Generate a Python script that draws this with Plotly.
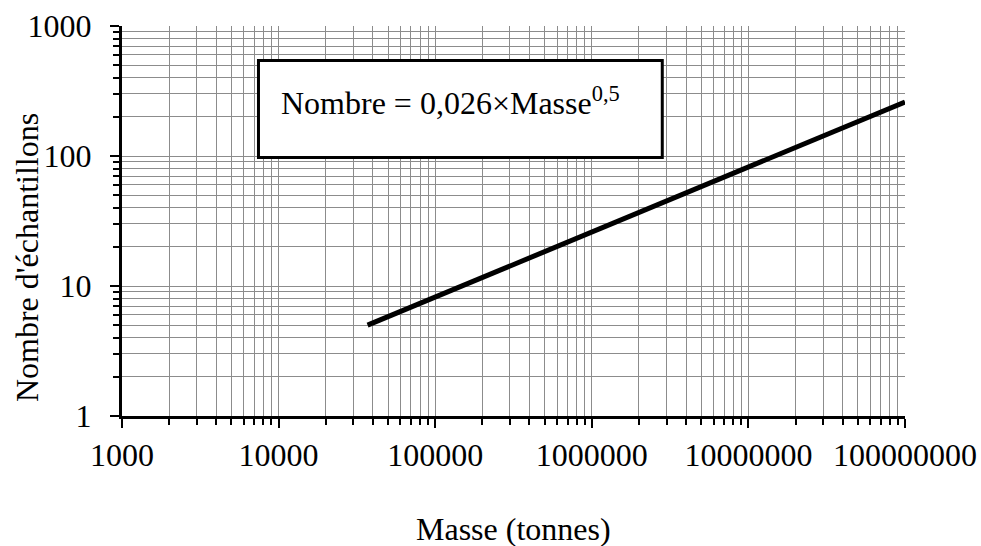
import plotly.graph_objects as go

# Read values (Masse en tonnes, Nombre d'échantillons)
masse = [37000, 100000, 1000000, 10000000, 100000000]
nombre = [5.0, 8.2, 26, 82, 260]

x_title = "Masse (tonnes)"
y_title = "Nombre d'échantillons"
equation = "Nombre = 0,026×Masse<sup>0,5</sup>"

FONT = "Liberation Serif, Times New Roman, serif"
FS = 32

fig = go.Figure()
fig.add_trace(go.Scatter(x=masse, y=nombre, mode="lines",
                         line=dict(color="black", width=5), showlegend=False))

axis_common = dict(
    type="log", dtick=1, tickformat="d", automargin=False,
    showgrid=True, gridcolor="#8c8c8c", gridwidth=1,
    showline=True, linecolor="black", linewidth=3,
    ticks="outside", ticklen=9, tickwidth=2, tickcolor="black",
    tickfont=dict(family=FONT, size=FS, color="black"),
    minor=dict(ticks="outside", ticklen=6, tickwidth=2, tickcolor="black",
               showgrid=True, gridcolor="#8c8c8c", gridwidth=1),
    zeroline=False, mirror=False,
)

fig.update_xaxes(range=[3, 8], **axis_common)
fig.update_yaxes(range=[0, 3], ticklabelstandoff=12, **axis_common)

# Equation box
fig.add_shape(type="rect", xref="paper", yref="paper",
              x0=0.1743, x1=0.690, y0=0.6628, y1=0.9115,
              line=dict(color="black", width=3), fillcolor="white", layer="above")
fig.add_annotation(xref="paper", yref="paper", x=0.2005, y=0.808,
                   xanchor="left", yanchor="middle",
                   text=equation, showarrow=False,
                   font=dict(family=FONT, size=FS, color="black"))

# Axis titles
fig.add_annotation(xref="paper", yref="paper", x=0.5, y=-0.29,
                   xanchor="center", yanchor="middle", text=x_title, showarrow=False,
                   font=dict(family=FONT, size=FS, color="black"))
fig.add_annotation(xref="paper", yref="paper", x=-0.1213, y=0.405,
                   xanchor="center", yanchor="middle", text=y_title, showarrow=False,
                   textangle=-90, font=dict(family=FONT, size=FS, color="black"))

fig.update_layout(
    width=981, height=546,
    margin=dict(l=122, r=76, t=26, b=130),
    plot_bgcolor="white", paper_bgcolor="white",
    font=dict(family=FONT, color="black"),
)

fig.write_html(
    "out.html",
    config={"displayModeBar": False},
    post_script="document.body.style.margin='0';document.body.style.overflow='hidden';",
)
